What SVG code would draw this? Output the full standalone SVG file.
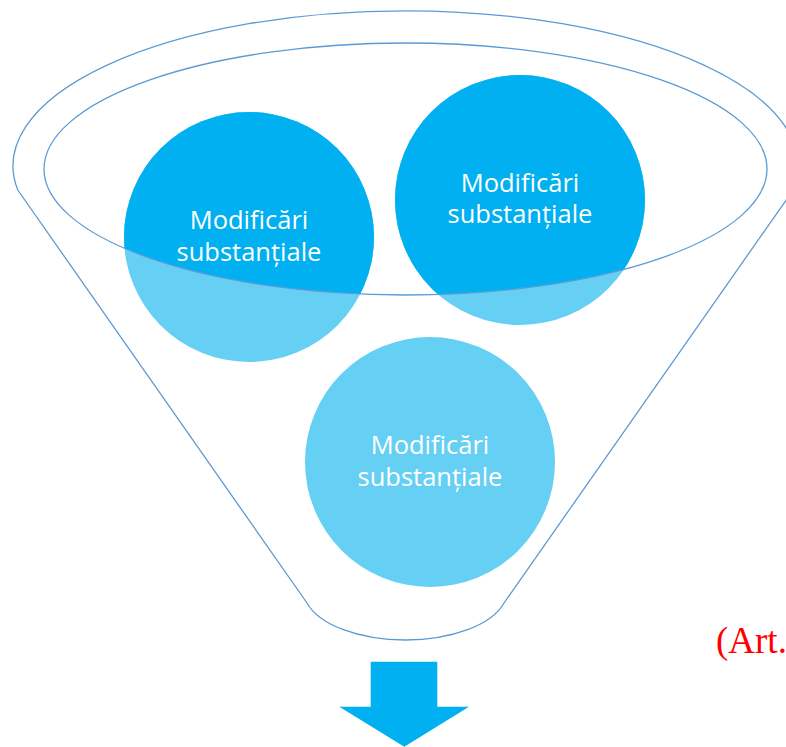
<svg xmlns="http://www.w3.org/2000/svg" width="786" height="747" viewBox="0 0 786 747">
  <style>
    .outline { fill: none; stroke: #5B9BD5; stroke-width: 1.3; }
    .light { fill: #66CFF4; }
    .dark { fill: #00B0F0; }
    .label { font-family: "Open Sans", "Liberation Sans", sans-serif; font-size: 25.5px; fill: #FFFFFF; text-anchor: middle; }
    .note { font-family: "Liberation Serif", serif; font-size: 37px; fill: #FF0000; }
  </style>
  <defs>
    <clipPath id="rim">
      <ellipse cx="405.5" cy="169" rx="361.5" ry="126"/>
    </clipPath>
  </defs>
  <rect width="786" height="747" fill="#FFFFFF"/>

  <g id="funnel">
    <path class="outline" d="M 17.8 190 A 392.5 155 0 1 1 793.2 190 L 504 603 A 102 50 0 0 1 307 603 Z"/>
  </g>

  <g id="node1">
    <circle class="light" cx="249" cy="237" r="125"/>
    <circle class="dark" cx="249" cy="237" r="125" clip-path="url(#rim)"/>
    <text class="label" x="249" y="229">Modificări</text>
    <text class="label" x="249" y="261">substanțiale</text>
  </g>

  <g id="node2">
    <circle class="light" cx="520" cy="200" r="125"/>
    <circle class="dark" cx="520" cy="200" r="125" clip-path="url(#rim)"/>
    <text class="label" x="520" y="192">Modificări</text>
    <text class="label" x="520" y="223">substanțiale</text>
  </g>

  <g id="node3">
    <circle class="light" cx="430" cy="462" r="125"/>
    <text class="label" x="430" y="454">Modificări</text>
    <text class="label" x="430" y="486">substanțiale</text>
  </g>

  <g id="rim-ellipse">
    <ellipse class="outline" cx="405.5" cy="169" rx="361.5" ry="126"/>
  </g>

  <g id="connectors">
    <path class="dark" d="M 370.7 661.7 L 437.3 661.7 L 437.3 706.7 L 469 706.7 L 404.3 746.7 L 339.3 706.7 L 370.7 706.7 Z"/>
  </g>

  <g id="note">
    <text class="note" x="716" y="653">(Art.</text>
  </g>
</svg>
